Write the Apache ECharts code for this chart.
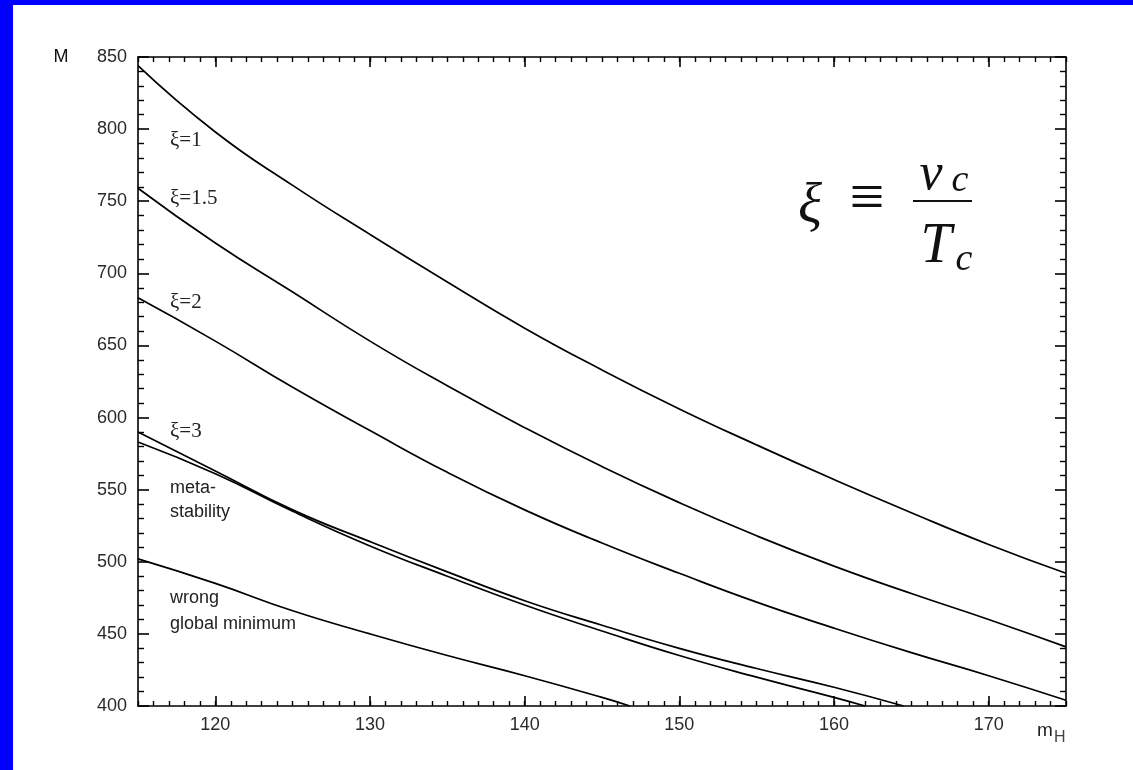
<!DOCTYPE html>
<html><head><meta charset="utf-8">
<script src="https://cdn.jsdelivr.net/npm/echarts@6/dist/echarts.min.js"></script>
<style>
html,body{margin:0;padding:0;width:1133px;height:770px;background:#0000ff;overflow:hidden}
#c{position:absolute;left:13px;top:5px;width:1120px;height:765px;background:#fff}
</style></head><body><div id="c"></div>
<script>
// ---- data ----
const xTickLabels = [120, 130, 140, 150, 160, 170];
const yTickLabels = [400, 450, 500, 550, 600, 650, 700, 750, 800, 850];

const mH_full = [115, 120, 125, 130, 135, 140, 145, 150, 155, 160, 165, 170, 175];
const M_xi1   = [844, 798, 761, 727, 694, 662, 633, 606, 581, 557, 534, 512, 492];
const M_xi15  = [759, 721, 687, 653, 622, 593, 566, 541, 518, 497, 478, 460, 441];
const M_xi2   = [683, 653, 621, 591, 562, 536, 513, 492, 472, 454, 437, 421, 404];

const mH_xi3a = [115, 120, 125, 130, 135, 140, 145, 150, 155, 160, 164.5];
const M_xi3a  = [590, 563, 536, 514, 493, 473, 456, 440, 426, 413, 400];
const mH_xi3b = [115, 120, 125, 130, 135, 140, 145, 150, 155, 160, 162];
const M_xi3b  = [583, 561, 535, 511, 490, 470, 452, 435, 420, 406, 400];

const mH_wrong = [115, 120, 125, 130, 135, 140, 145, 146.8];
const M_wrong  = [502, 485, 466, 450, 435, 421, 406, 400];

const zip = (xs, ys) => xs.map((x, i) => [x, ys[i]]);

const chart = echarts.init(document.getElementById('c'), null, {renderer: 'canvas'});
const black = '#000';
const lbl = {color: '#2a2a2a', fontSize: 18, fontFamily: 'Liberation Sans'};

function xAx(pos, major, labels) {
  return {
    type: 'value', min: 115, max: 175, position: pos,
    interval: major ? undefined : 1,
    axisLine: {show: !major, onZero: false, lineStyle: {color: black, width: 1.6}},
    axisTick: major ? {show: true, inside: true, length: 10, customValues: xTickLabels, lineStyle: {color: black, width: 1.6}}
                    : {show: true, inside: true, length: 5, lineStyle: {color: black, width: 1.4}},
    axisLabel: labels ? Object.assign({show: true, customValues: xTickLabels, margin: 10}, lbl) : {show: false},
    splitLine: {show: false}
  };
}
function yAx(pos, labels) {
  return {
    type: 'value', min: 400, max: 850, interval: 50, position: pos,
    axisLine: {show: true, onZero: false, lineStyle: {color: black, width: 1.6}},
    axisTick: {show: true, inside: true, length: 11, lineStyle: {color: black, width: 1.6}},
    minorTick: {show: true, splitNumber: 5, length: 6, lineStyle: {color: black, width: 1.4}},
    axisLabel: labels ? Object.assign({show: true, margin: 11}, lbl) : {show: false},
    splitLine: {show: false}, minorSplitLine: {show: false}
  };
}

function line(name, data) {
  return {
    name, type: 'line', data, xAxisIndex: 0, yAxisIndex: 0,
    showSymbol: false, symbol: 'none', smooth: 0.5,
    lineStyle: {color: black, width: 1.7}, clip: true, silent: true
  };
}

const serif = 'Liberation Serif';
const T = (text, x, y, opts) => ({
  type: 'text', x, y, silent: true,
  style: Object.assign({text, fill: '#222', font: '18px "Liberation Sans"', textAlign: 'left', textVerticalAlign: 'middle'}, opts || {})
});

chart.setOption({
  animation: false,
  backgroundColor: '#fff',
  grid: {left: 125, top: 52, width: 928, height: 649, containLabel: false},
  xAxis: [xAx('bottom', false, true), xAx('bottom', true, false), xAx('top', false, false), xAx('top', true, false)],
  yAxis: [yAx('left', true), yAx('right', false)],
  series: [
    line('xi=1', zip(mH_full, M_xi1)),
    line('xi=1.5', zip(mH_full, M_xi15)),
    line('xi=2', zip(mH_full, M_xi2)),
    line('xi=3 a', zip(mH_xi3a, M_xi3a)),
    line('xi=3 b', zip(mH_xi3b, M_xi3b)),
    line('wrong global minimum', zip(mH_wrong, M_wrong))
  ],
  graphic: [
    T('M', 48, 52, {textAlign: 'center', font: '18px "Liberation Sans"', fill: '#111'}),
    T('m', 1024, 726, {font: '19px "Liberation Sans"', fill: '#222'}),
    T('H', 1041, 733, {font: '16px "Liberation Sans"', fill: '#444'}),
    T('ξ=1', 157, 135, {font: '21px "' + serif + '"'}),
    T('ξ=1.5', 157, 193, {font: '21px "' + serif + '"'}),
    T('ξ=2', 157, 297, {font: '21px "' + serif + '"'}),
    T('ξ=3', 157, 426, {font: '21px "' + serif + '"'}),
    T('meta-', 157, 483),
    T('stability', 157, 507),
    T('wrong', 157, 593),
    T('global minimum', 157, 619),
    // formula  ξ ≡ v_c / T_c
    T('ξ', 797, 202, {textAlign: 'center', font: 'italic 56px "' + serif + '"', fill: '#111'}),
    T('≡', 854, 196, {textAlign: 'center', font: '62px "' + serif + '"', fill: '#111'}),
    T('v', 918, 170, {textAlign: 'center', font: 'italic 52px "' + serif + '"', fill: '#111'}),
    T('c', 947, 176, {textAlign: 'center', font: 'italic 38px "' + serif + '"', fill: '#111'}),
    {type: 'line', silent: true, shape: {x1: 900, y1: 196, x2: 959, y2: 196}, style: {stroke: '#111', lineWidth: 2}},
    T('T', 923, 242, {textAlign: 'center', font: 'italic 56px "' + serif + '"', fill: '#111'}),
    T('c', 951, 255, {textAlign: 'center', font: 'italic 38px "' + serif + '"', fill: '#111'})
  ]
});
</script></body></html>
